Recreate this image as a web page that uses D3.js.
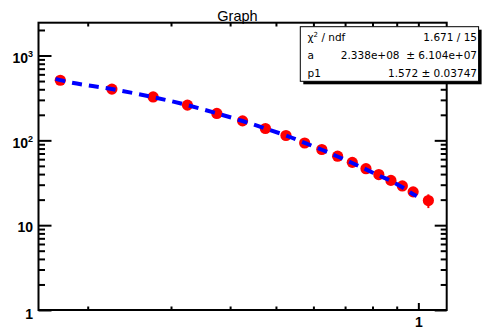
<!DOCTYPE html>
<html>
<head>
<meta charset="utf-8">
<script src="https://cdn.jsdelivr.net/npm/d3@7"></script>
<style>
  html, body { margin: 0; padding: 0; background: #fff; }
  svg { display: block; }
</style>
</head>
<body>
<script>
// ---- data ----
const xValues = [0.175, 0.225, 0.275, 0.325, 0.375, 0.425, 0.475, 0.525, 0.575, 0.625,
                 0.675, 0.725, 0.775, 0.825, 0.875, 0.925, 0.975, 1.05];
const yValues = [511, 402, 325, 260, 207.6, 169.8, 138, 114, 93, 78,
                 65, 55, 46.3, 39.5, 33.7, 29.0, 24.7, 19.5];
const yErrors = [6, 5, 4.5, 4, 3.5, 3, 2.8, 2.5, 2.3, 2.1,
                 2, 1.9, 1.8, 1.7, 1.6, 1.6, 1.6, 3.6];

const fitX = [0.171, 0.175, 0.225, 0.275, 0.325, 0.375, 0.425, 0.475, 0.525, 0.575,
              0.625, 0.675, 0.725, 0.775, 0.825, 0.875, 0.925, 0.975, 0.992];
const fitY = [530, 512, 402, 323, 260, 208, 169, 138, 114, 93.5,
              77.5, 64.5, 54, 45.5, 38.5, 33.2, 28.0, 23.2, 22.0];

const xMajorTicks = [1];
const xMajorLabels = ["1"];
const xMinorTicks = [0.2, 0.3, 0.4, 0.5, 0.6, 0.7, 0.8, 0.9];
const yMajorTicks = [1, 10, 100, 1000];
const yMajorLabels = [["1", ""], ["10", ""], ["10", "2"], ["10", "3"]];
const yMinorTicks = [2, 3, 4, 5, 6, 7, 8, 9,
                     20, 30, 40, 50, 60, 70, 80, 90,
                     200, 300, 400, 500, 600, 700, 800, 900,
                     2000];

const titleText = "Graph";
const statNames = ["χ", "a", "p1"];
const statValues = ["1.671 / 15", "2.338e+08  ± 6.104e+07", "1.572 ± 0.03747"];

// ---- layout ----
const W = 483, H = 331;
const L = 38.5, R = 446.7, T = 22.7, B = 310;

const svg = d3.select("body").append("svg").attr("width", W).attr("height", H);
svg.append("rect").attr("width", W).attr("height", H).attr("fill", "#fff");

const x = d3.scaleLog().domain([0.1574, 1.148]).range([L, R]);
const y = d3.scaleLog().domain([1, 2437]).range([B, T]);

// title
svg.append("text")
  .attr("x", 237.5).attr("y", 20.6)
  .attr("text-anchor", "middle")
  .attr("font-family", "Liberation Sans, Arial, sans-serif")
  .attr("font-size", 14.5)
  .text(titleText);

// frame
svg.append("rect")
  .attr("x", L).attr("y", T).attr("width", R - L).attr("height", B - T)
  .attr("fill", "none").attr("stroke", "#000").attr("stroke-width", 2);

function styleAxis(g) {
  g.select(".domain").remove();
  g.selectAll(".tick line").attr("stroke", "#000").attr("stroke-width", 2);
}

// left axis major
const gL = svg.append("g").attr("transform", `translate(${L},0)`)
  .call(d3.axisLeft(y).tickValues(yMajorTicks).tickSizeInner(-13).tickSizeOuter(0)
        .tickPadding(5.5).tickFormat(() => ""));
styleAxis(gL);
gL.selectAll(".tick text").each(function(d, i) {
  const t = d3.select(this);
  const lab = yMajorLabels[i];
  t.attr("font-family", "Liberation Sans, Arial, sans-serif")
   .attr("font-weight", "bold").attr("font-size", 14).attr("fill", "#000")
   .attr("dy", lab[1] ? "7.3" : (d === 1 ? "8" : "6"));
  t.text(null);
  t.append("tspan").text(lab[0]);
  if (lab[1]) {
    t.append("tspan").attr("font-size", 9).attr("dy", -6.5).text(lab[1]);
  }
});
// left axis minor
styleAxis(svg.append("g").attr("transform", `translate(${L},0)`)
  .call(d3.axisLeft(y).tickValues(yMinorTicks).tickSizeInner(-6.5).tickSizeOuter(0).tickFormat(() => "")));
// right axis
styleAxis(svg.append("g").attr("transform", `translate(${R},0)`)
  .call(d3.axisRight(y).tickValues(yMajorTicks).tickSizeInner(-12).tickSizeOuter(0).tickFormat(() => "")));
styleAxis(svg.append("g").attr("transform", `translate(${R},0)`)
  .call(d3.axisRight(y).tickValues(yMinorTicks).tickSizeInner(-6).tickSizeOuter(0).tickFormat(() => "")));

// bottom axis
const gB = svg.append("g").attr("transform", `translate(0,${B})`)
  .call(d3.axisBottom(x).tickValues(xMajorTicks).tickSizeInner(-7).tickSizeOuter(0)
        .tickPadding(7).tickFormat((d, i) => xMajorLabels[i]));
styleAxis(gB);
gB.selectAll(".tick text")
  .attr("font-family", "Liberation Sans, Arial, sans-serif")
  .attr("font-weight", "bold").attr("font-size", 14).attr("fill", "#000");
styleAxis(svg.append("g").attr("transform", `translate(0,${B})`)
  .call(d3.axisBottom(x).tickValues(xMinorTicks).tickSizeInner(-3.5).tickSizeOuter(0).tickFormat(() => "")));
// top axis
styleAxis(svg.append("g").attr("transform", `translate(0,${T})`)
  .call(d3.axisTop(x).tickValues(xMajorTicks.concat(xMinorTicks)).tickSizeInner(-3.8).tickSizeOuter(0).tickFormat(() => "")));

// data points with error bars
const pts = xValues.map((v, i) => ({ x: v, y: yValues[i], e: yErrors[i] }));
svg.append("g").selectAll("line").data(pts).join("line")
  .attr("x1", d => x(d.x)).attr("x2", d => x(d.x))
  .attr("y1", d => y(d.y - d.e)).attr("y2", d => y(d.y + d.e))
  .attr("stroke", "#ff0000").attr("stroke-width", 2);
svg.append("g").selectAll("circle").data(pts).join("circle")
  .attr("cx", d => x(d.x)).attr("cy", d => y(d.y)).attr("r", 5.6)
  .attr("fill", "#ff0000");

// fit curve
const fitPts = fitX.map((v, i) => [v, fitY[i]]);
svg.append("path")
  .attr("d", d3.line().x(d => x(d[0])).y(d => y(d[1])).curve(d3.curveMonotoneX)(fitPts))
  .attr("fill", "none").attr("stroke", "#0000ff").attr("stroke-width", 4)
  .attr("stroke-dasharray", "10,7");

// stats box
const bx = 300.3, by = 26.7, bw = 178.3, bh = 54.6;
svg.append("rect").attr("x", bx + 3).attr("y", by + 3).attr("width", bw).attr("height", bh).attr("fill", "#000");
svg.append("rect").attr("x", bx).attr("y", by).attr("width", bw).attr("height", bh)
  .attr("fill", "#fff").attr("stroke", "#000").attr("stroke-width", 1);
const rowY = [40.8, 59.1, 77.4];
const sg = svg.append("g").attr("font-family", "DejaVu Sans, sans-serif").attr("font-size", 10.5).attr("fill", "#000");
statNames.forEach((n, i) => {
  const t = sg.append("text").attr("x", 307.5).attr("y", rowY[i]);
  t.append("tspan").text(n);
  if (i === 0) {
    t.append("tspan").attr("font-size", 7).attr("dy", -4).text("2");
    t.append("tspan").attr("dy", 4).text(" / ndf");
  }
  sg.append("text").attr("x", 477).attr("y", rowY[i]).attr("text-anchor", "end")
    .attr("xml:space", "preserve").style("white-space", "pre").text(statValues[i]);
});
</script>
</body>
</html>
